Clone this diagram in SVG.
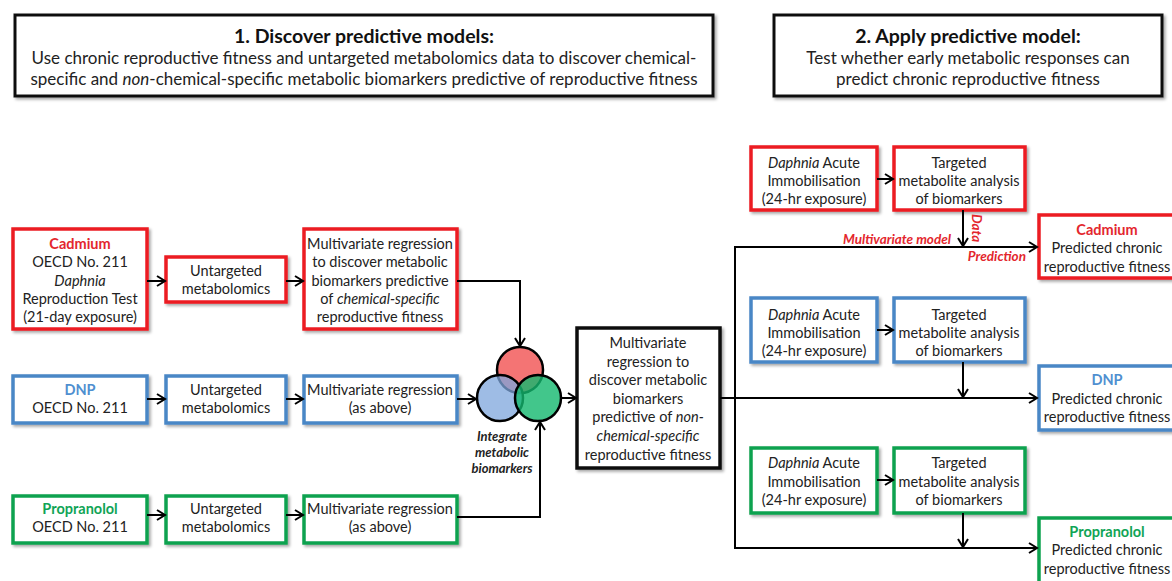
<svg xmlns="http://www.w3.org/2000/svg" width="1172" height="581" viewBox="0 0 1172 581">
<defs>
<filter id="sh" x="-10%" y="-10%" width="130%" height="130%">
<feDropShadow dx="2" dy="2" stdDeviation="1.5" flood-color="#000" flood-opacity="0.35"/>
</filter>
<marker id="ah" markerWidth="12" markerHeight="12" viewBox="0 0 12 12" refX="10" refY="6" orient="auto" markerUnits="userSpaceOnUse">
<path d="M2,1 L10,6 L2,11" fill="none" stroke="#000" stroke-width="2"/>
</marker>
<style>
text{font-family:Lato,"Open Sans","Liberation Sans",sans-serif;fill:#222;font-size:14.5px;text-anchor:middle}
.hd{font-size:17px}
.ht{font-size:19.5px;font-weight:bold;fill:#111}
.red rect,.blu rect,.grn rect,.blk rect{fill:#fff;stroke-width:3.5;filter:url(#sh)}
.red rect{stroke:#ec1c24}
.blu rect{stroke:#4a87c6}
.grn rect{stroke:#0ea24f}
.blk rect{stroke:#111}
.hdr rect{fill:#fff;stroke:#111;stroke-width:3;filter:url(#sh)}
.rt{fill:#e3262d;font-weight:bold}
.bt{fill:#4f8fd0;font-weight:bold}
.gt{fill:#10a456;font-weight:bold}
.lab{fill:#e3262d;font-weight:bold;font-style:italic;font-size:13.5px}
.vl{font-size:13px;font-weight:bold;font-style:italic}
.con line,.con path{fill:none;stroke:#000;stroke-width:2}
.arr{marker-end:url(#ah)}
</style>
</defs>
<rect width="1172" height="581" fill="#fff"/>

<g id="header1" class="hdr">
<rect x="15" y="15" width="698" height="81"/>
<text class="ht" x="364" y="43">1. Discover predictive models:</text>
<text class="hd" x="364" y="64">Use chronic reproductive fitness and untargeted metabolomics data to discover chemical-</text>
<text class="hd" x="364" y="85">specific and <tspan font-style="italic">non</tspan>-chemical-specific metabolic biomarkers predictive of reproductive fitness</text>
</g>
<g id="header2" class="hdr">
<rect x="774" y="15" width="388" height="81"/>
<text class="ht" x="968" y="43">2. Apply predictive model:</text>
<text class="hd" x="968" y="64">Test whether early metabolic responses can</text>
<text class="hd" x="968" y="85">predict chronic reproductive fitness</text>
</g>

<g id="cadmium" class="red">
<rect x="13" y="229" width="134" height="100"/>
<text class="rt" x="80" y="249">Cadmium</text>
<text x="80" y="267">OECD No. 211</text>
<text x="80" y="286" font-style="italic">Daphnia</text>
<text x="80" y="304">Reproduction Test</text>
<text x="80" y="322">(21-day exposure)</text>
</g>
<g id="cad-untargeted" class="red">
<rect x="166" y="257" width="120" height="45"/>
<text x="226" y="276">Untargeted</text>
<text x="226" y="294">metabolomics</text>
</g>
<g id="cad-regression" class="red">
<rect x="304" y="229" width="153" height="100"/>
<text x="380" y="249">Multivariate regression</text>
<text x="380" y="267">to discover metabolic</text>
<text x="380" y="286">biomarkers predictive</text>
<text x="380" y="304">of <tspan font-style="italic">chemical-specific</tspan></text>
<text x="380" y="322">reproductive fitness</text>
</g>

<g id="dnp" class="blu">
<rect x="13" y="376" width="134" height="47"/>
<text class="bt" x="80" y="395">DNP</text>
<text x="80" y="413">OECD No. 211</text>
</g>
<g id="dnp-untargeted" class="blu">
<rect x="166" y="376" width="120" height="47"/>
<text x="226" y="395">Untargeted</text>
<text x="226" y="413">metabolomics</text>
</g>
<g id="dnp-regression" class="blu">
<rect x="304" y="376" width="153" height="47"/>
<text x="380" y="395">Multivariate regression</text>
<text x="380" y="413">(as above)</text>
</g>

<g id="propranolol" class="grn">
<rect x="13" y="496" width="134" height="47"/>
<text class="gt" x="80" y="514">Propranolol</text>
<text x="80" y="532">OECD No. 211</text>
</g>
<g id="prop-untargeted" class="grn">
<rect x="166" y="496" width="120" height="47"/>
<text x="226" y="514">Untargeted</text>
<text x="226" y="532">metabolomics</text>
</g>
<g id="prop-regression" class="grn">
<rect x="304" y="496" width="153" height="47"/>
<text x="380" y="514">Multivariate regression</text>
<text x="380" y="532">(as above)</text>
</g>

<g id="venn">
<circle cx="520" cy="370" r="23" fill="#f25c5c" fill-opacity="0.85" stroke="#000" stroke-width="2.5"/>
<circle cx="500" cy="398" r="23" fill="#7ea6dc" fill-opacity="0.75" stroke="#000" stroke-width="2.5"/>
<circle cx="538" cy="398" r="23" fill="#13b86e" fill-opacity="0.8" stroke="#000" stroke-width="2.5"/>
<text class="vl" x="502" y="441">Integrate</text>
<text class="vl" x="502" y="457">metabolic</text>
<text class="vl" x="502" y="473">biomarkers</text>
</g>

<g id="integrated-regression" class="blk">
<rect x="577" y="328" width="143" height="140"/>
<text x="648" y="348">Multivariate</text>
<text x="648" y="367">regression to</text>
<text x="648" y="385">discover metabolic</text>
<text x="648" y="404">biomarkers</text>
<text x="648" y="422">predictive of <tspan font-style="italic">non-</tspan></text>
<text x="648" y="441" font-style="italic">chemical-specific</text>
<text x="648" y="460">reproductive fitness</text>
</g>

<g id="cad-acute" class="red">
<rect x="751" y="147" width="126" height="63"/>
<text x="814" y="168"><tspan font-style="italic">Daphnia</tspan> Acute</text>
<text x="814" y="186">Immobilisation</text>
<text x="814" y="204">(24-hr exposure)</text>
</g>
<g id="cad-targeted" class="red">
<rect x="894" y="147" width="131" height="63"/>
<text x="959" y="168">Targeted</text>
<text x="959" y="186">metabolite analysis</text>
<text x="959" y="204">of biomarkers</text>
</g>
<g id="cad-predicted" class="red">
<rect x="1039" y="215" width="145" height="63"/>
<text class="rt" x="1107" y="235">Cadmium</text>
<text x="1107" y="253">Predicted chronic</text>
<text x="1107" y="272">reproductive fitness</text>
</g>

<g id="dnp-acute" class="blu">
<rect x="751" y="298" width="126" height="64"/>
<text x="814" y="320"><tspan font-style="italic">Daphnia</tspan> Acute</text>
<text x="814" y="338">Immobilisation</text>
<text x="814" y="356">(24-hr exposure)</text>
</g>
<g id="dnp-targeted" class="blu">
<rect x="894" y="298" width="131" height="64"/>
<text x="959" y="320">Targeted</text>
<text x="959" y="338">metabolite analysis</text>
<text x="959" y="356">of biomarkers</text>
</g>
<g id="dnp-predicted" class="blu">
<rect x="1039" y="366" width="145" height="64"/>
<text class="bt" x="1107" y="385">DNP</text>
<text x="1107" y="404">Predicted chronic</text>
<text x="1107" y="422">reproductive fitness</text>
</g>

<g id="prop-acute" class="grn">
<rect x="751" y="448" width="126" height="65"/>
<text x="814" y="468"><tspan font-style="italic">Daphnia</tspan> Acute</text>
<text x="814" y="487">Immobilisation</text>
<text x="814" y="505">(24-hr exposure)</text>
</g>
<g id="prop-targeted" class="grn">
<rect x="894" y="448" width="131" height="65"/>
<text x="959" y="468">Targeted</text>
<text x="959" y="487">metabolite analysis</text>
<text x="959" y="505">of biomarkers</text>
</g>
<g id="prop-predicted" class="grn">
<rect x="1039" y="518" width="145" height="70"/>
<text class="gt" x="1107" y="537">Propranolol</text>
<text x="1107" y="555">Predicted chronic</text>
<text x="1107" y="574">reproductive fitness</text>
</g>

<g id="connectors" class="con">
<line class="arr" x1="147" y1="281" x2="165" y2="281"/>
<line class="arr" x1="286" y1="281" x2="303" y2="281"/>
<path class="arr" d="M457,281 H520 V346"/>
<line class="arr" x1="147" y1="399" x2="165" y2="399"/>
<line class="arr" x1="286" y1="399" x2="303" y2="399"/>
<line class="arr" x1="457" y1="399" x2="476" y2="399"/>
<line class="arr" x1="147" y1="515" x2="165" y2="515"/>
<line class="arr" x1="286" y1="515" x2="303" y2="515"/>
<path class="arr" d="M457,517 H540 V422"/>
<line class="arr" x1="561" y1="398" x2="576" y2="398"/>
<line x1="735" y1="246" x2="735" y2="549"/>
<line class="arr" x1="720" y1="398" x2="1037" y2="398"/>
<line class="arr" x1="735" y1="247" x2="1037" y2="247"/>
<line class="arr" x1="735" y1="548" x2="1037" y2="548"/>
<line class="arr" x1="877" y1="179" x2="893" y2="179"/>
<line class="arr" x1="877" y1="330" x2="893" y2="330"/>
<line class="arr" x1="877" y1="480" x2="893" y2="480"/>
<line class="arr" x1="963" y1="210" x2="963" y2="246"/>
<line class="arr" x1="963" y1="362" x2="963" y2="397"/>
<line class="arr" x1="963" y1="513" x2="963" y2="547"/>
</g>
<g id="labels">
<text class="lab" x="951" y="244" style="text-anchor:end">Multivariate model</text>
<text class="lab" x="1026" y="261" style="text-anchor:end">Prediction</text>
<text class="lab" transform="translate(972,214) rotate(90)" style="text-anchor:start">Data</text>
</g>
</svg>
